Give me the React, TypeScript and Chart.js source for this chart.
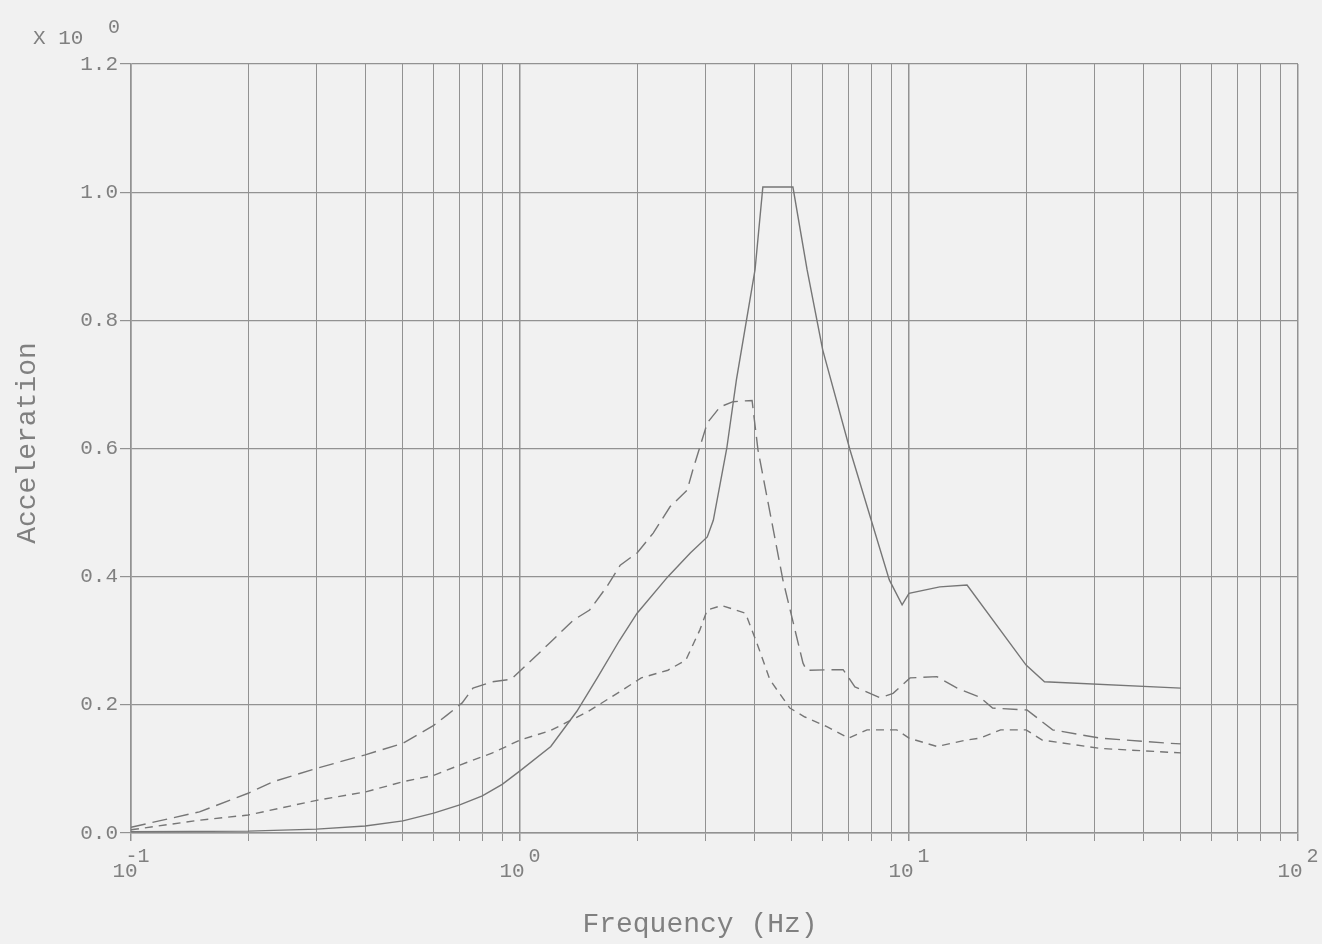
import React, { useEffect, useRef } from "react";
import { Chart, registerables } from "chart.js";

Chart.register(...registerables);

// ---- Data ----
const solidFreq = [0.1, 0.2, 0.3, 0.4, 0.5, 0.6, 0.7, 0.8, 0.9, 1.0, 1.2, 1.4, 1.58, 1.8, 2.0, 2.4, 2.74, 3.03, 3.14, 3.4, 3.6, 4.02, 4.21, 5.03, 5.47, 6.0, 7.05, 8.9, 9.6, 10.0, 12.0, 14.1, 20.0, 22.3, 50.0];
const solidAcc = [0.002, 0.003, 0.006, 0.011, 0.019, 0.031, 0.044, 0.058, 0.076, 0.097, 0.135, 0.19, 0.242, 0.3, 0.343, 0.4, 0.437, 0.462, 0.488, 0.6, 0.707, 0.879, 1.008, 1.008, 0.879, 0.754, 0.598, 0.395, 0.356, 0.374, 0.384, 0.387, 0.262, 0.236, 0.226];

const longDashFreq = [0.1, 0.15, 0.2, 0.232, 0.3, 0.4, 0.5, 0.6, 0.649, 0.71, 0.757, 0.85, 0.95, 1.05, 1.19, 1.37, 1.51, 1.67, 1.81, 2.0, 2.2, 2.43, 2.69, 2.78, 3.03, 3.27, 3.53, 3.95, 4.09, 4.74, 5.34, 5.45, 6.77, 7.26, 8.42, 9.1, 10.06, 11.8, 13.3, 15.2, 16.4, 20.1, 23.4, 31.0, 46.9, 50.0];
const longDashAcc = [0.009, 0.033, 0.062, 0.08, 0.101, 0.122, 0.14, 0.168, 0.184, 0.203, 0.226, 0.236, 0.24, 0.265, 0.296, 0.332, 0.348, 0.384, 0.418, 0.437, 0.468, 0.509, 0.535, 0.566, 0.64, 0.665, 0.673, 0.675, 0.598, 0.395, 0.265, 0.254, 0.255, 0.228, 0.211, 0.218, 0.242, 0.244, 0.226, 0.212, 0.195, 0.192, 0.161, 0.148, 0.14, 0.139];

const shortDashFreq = [0.1, 0.15, 0.2, 0.3, 0.4, 0.5, 0.6, 0.7, 0.85, 1.0, 1.2, 1.5, 1.8, 2.05, 2.4, 2.67, 2.9, 3.03, 3.3, 3.8, 4.1, 4.39, 4.94, 5.4, 6.15, 7.0, 7.8, 9.3, 10.0, 11.8, 14.0, 15.2, 17.2, 20.0, 22.0, 31.0, 50.0];
const shortDashAcc = [0.005, 0.02, 0.028, 0.051, 0.064, 0.08, 0.09, 0.106, 0.125, 0.145, 0.16, 0.19, 0.22, 0.242, 0.254, 0.27, 0.317, 0.348, 0.355, 0.343, 0.29, 0.239, 0.195, 0.181, 0.166, 0.148, 0.161, 0.161, 0.148, 0.135, 0.145, 0.148, 0.161, 0.161, 0.145, 0.132, 0.125];

const xGridValues = [0.1, 0.2, 0.3, 0.4, 0.5, 0.6, 0.7, 0.8, 0.9, 1, 2, 3, 4, 5, 6, 7, 8, 9, 10, 20, 30, 40, 50, 60, 70, 80, 90, 100];
const xLabelValues = [0.1, 1, 10, 100];
const xLabelExponents = ["-1", "0", "1", "2"];

const yMin = 0;
const yMax = 1.2;
const yStep = 0.2;

const xTitle = "Frequency (Hz)";
const yTitle = "Acceleration";
const multiplierBase = "X 10";
const multiplierExp = "0";

const FONT = "'Liberation Mono', 'DejaVu Sans Mono', monospace";
const TEXT = "#808080";
const GRID = "#929292";
const LINE = "#767676";
const BG = "#f1f1f1";

const toPoints = (xs: number[], ys: number[]) => xs.map((x, i) => ({ x, y: ys[i] }));

export default function App() {
  const ref = useRef<HTMLCanvasElement | null>(null);

  useEffect(() => {
    document.body.style.margin = "0";
    document.body.style.background = BG;
    const canvas = ref.current;
    if (!canvas) return;

    const textPlugin = {
      id: "texts",
      beforeDraw(chart: any) {
        const c = chart.ctx;
        c.save();
        c.fillStyle = BG;
        c.fillRect(0, 0, chart.width, chart.height);
        c.restore();
      },
      afterDraw(chart: any) {
        const c = chart.ctx;
        const xs = chart.scales.x;
        c.save();
        c.fillStyle = TEXT;
        c.textBaseline = "alphabetic";
        // x tick labels with superscript exponents
        xLabelValues.forEach((v, i) => {
          const px = xs.getPixelForValue(v);
          c.font = `21px ${FONT}`;
          const w10 = c.measureText("10").width;
          c.font = `20px ${FONT}`;
          const exp = xLabelExponents[i];
          const neg = exp.startsWith("-");
          const wMinus = neg ? c.measureText("-").width : 0;
          const gap = neg ? 0 : 4;
          const wExp = c.measureText(exp).width - wMinus + gap;
          const start = px - (w10 + wExp) / 2;
          c.font = `21px ${FONT}`;
          c.textAlign = "left";
          c.fillText("10", start, 877);
          c.font = `20px ${FONT}`;
          c.fillText(exp, start + w10 - wMinus + gap, 862);
        });
        // multiplier
        c.font = `21px ${FONT}`;
        c.textAlign = "left";
        c.fillText(multiplierBase, 33, 44);
        c.font = `20px ${FONT}`;
        c.fillText(multiplierExp, 108, 33);
        // axis titles
        c.font = `28px ${FONT}`;
        c.textAlign = "center";
        c.fillText(xTitle, 700, 932);
        c.save();
        c.translate(35, 443);
        c.rotate(-Math.PI / 2);
        c.fillText(yTitle, 0, 0);
        c.restore();
        c.restore();
      },
    };

    const chart = new Chart(canvas, {
      type: "line",
      data: {
        datasets: [
          {
            label: "solid",
            data: toPoints(solidFreq, solidAcc),
            borderColor: LINE,
            borderWidth: 1.4,
            pointRadius: 0,
            tension: 0,
            fill: false,
          },
          {
            label: "long dash",
            data: toPoints(longDashFreq, longDashAcc),
            borderColor: LINE,
            borderWidth: 1.4,
            borderDash: [15, 7],
            pointRadius: 0,
            tension: 0,
            fill: false,
          },
          {
            label: "short dash",
            data: toPoints(shortDashFreq, shortDashAcc),
            borderColor: LINE,
            borderWidth: 1.4,
            borderDash: [8, 6],
            pointRadius: 0,
            tension: 0,
            fill: false,
          },
        ],
      },
      options: {
        animation: false,
        responsive: false,
        maintainAspectRatio: false,
        layout: { padding: { top: 64, right: 24, left: 0, bottom: 0 } },
        plugins: { legend: { display: false }, tooltip: { enabled: false } },
        scales: {
          x: {
            type: "logarithmic",
            min: 0.1,
            max: 100,
            afterBuildTicks: (scale: any) => {
              scale.ticks = xGridValues.map((v) => ({ value: v }));
            },
            afterFit: (scale: any) => {
              scale.height = 111;
            },
            ticks: { display: false },
            grid: {
              color: GRID,
              lineWidth: (ctx: any) => {
                const v = ctx.tick ? ctx.tick.value : 0;
                return xLabelValues.includes(v) ? 1.5 : 1;
              },
              tickLength: 8,
              drawTicks: true,
            },
            border: { display: true, color: GRID, width: 1.5 },
          },
          y: {
            type: "linear",
            min: yMin,
            max: yMax,
            afterFit: (scale: any) => {
              scale.width = 131;
            },
            ticks: {
              stepSize: yStep,
              color: TEXT,
              font: { family: FONT, size: 21 },
              padding: 2,
              callback: (v: any) => Number(v).toFixed(1),
            },
            grid: { color: GRID, lineWidth: 1.2, tickLength: 11 },
            border: { display: true, color: GRID, width: 1.5 },
          },
        },
      },
      plugins: [textPlugin],
    });

    return () => chart.destroy();
  }, []);

  return (
    <div style={{ width: 1322, height: 944 }}>
      <canvas ref={ref} width={1322} height={944} style={{ display: "block" }} />
    </div>
  );
}
